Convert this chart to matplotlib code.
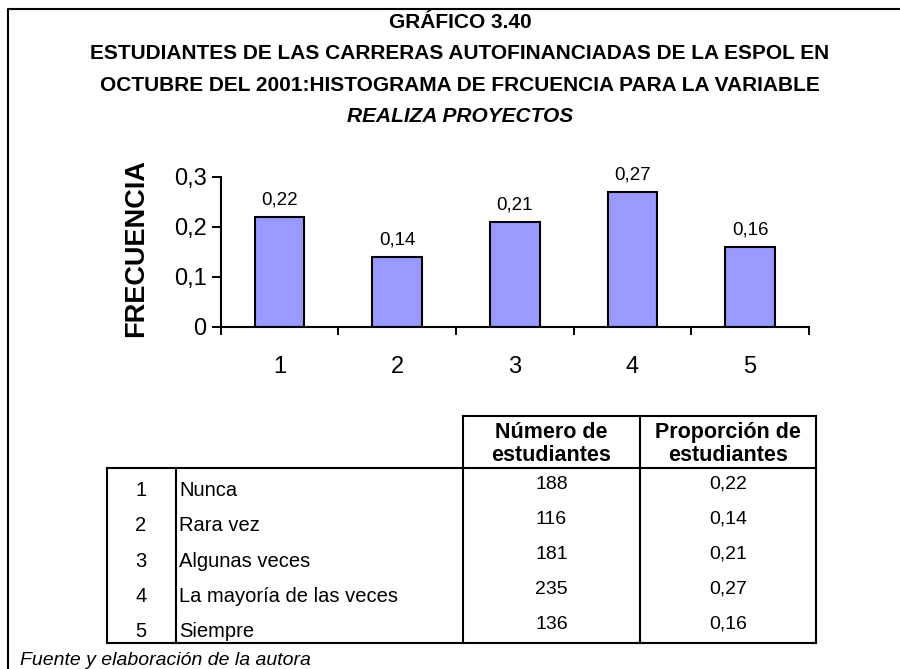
import matplotlib
matplotlib.use("Agg")
import matplotlib.pyplot as plt
from matplotlib.lines import Line2D

plt.rcParams['font.family'] = ['Liberation Sans', 'DejaVu Sans']

# ---- data ----
categories = ["1", "2", "3", "4", "5"]
frequencies = [0.22, 0.14, 0.21, 0.27, 0.16]
freq_labels = ["0,22", "0,14", "0,21", "0,27", "0,16"]
y_ticks = [0, 0.1, 0.2, 0.3]
y_tick_labels = ["0", "0,1", "0,2", "0,3"]
answer_names = ["Nunca", "Rara vez", "Algunas veces", "La mayoría de las veces", "Siempre"]
student_counts = [188, 116, 181, 235, 136]
proportion_labels = ["0,22", "0,14", "0,21", "0,27", "0,16"]

title_lines = [
    "GRÁFICO 3.40",
    "ESTUDIANTES DE LAS CARRERAS AUTOFINANCIADAS DE LA ESPOL EN",
    "OCTUBRE DEL 2001:HISTOGRAMA DE FRCUENCIA PARA LA VARIABLE",
]
title_italic = "REALIZA PROYECTOS"
footnote = "Fuente y elaboración de la autora"

W, H = 900, 669
fig = plt.figure(figsize=(W / 100, H / 100), dpi=100)


def fx(px):
    return px / W


def fy(py):
    return 1 - py / H


def put(px, py, s, size, ha="center", **kw):
    """Place text so that the middle of its capitals sits at pixel row py."""
    base = py + 0.358 * size * 100 / 72
    fig.text(fx(px), fy(base), s, ha=ha, va="baseline", fontsize=size, **kw)


# outer frame (left and top edges)
fig.add_artist(Line2D([fx(7.5), fx(7.5), fx(900)], [fy(669), fy(9), fy(9)],
                      color="black", lw=1.5, transform=fig.transFigure))

# title
title_y = [21, 52, 84]
for txt, ty in zip(title_lines, title_y):
    put(460, ty, txt, 15, fontweight="bold")
put(460, 115, title_italic, 15, fontweight="bold", fontstyle="italic")

# bar chart
ax_left, ax_right = 220.7, 809
ax_top, ax_bottom = 176.7, 326.7
ax = fig.add_axes([fx(ax_left), fy(ax_bottom), fx(ax_right) - fx(ax_left),
                   (ax_bottom - ax_top) / H])
x = list(range(len(categories)))
ax.bar(x, frequencies, width=0.42, color="#9999FF",
       edgecolor="black", linewidth=1.5)
lab_size = 13.5
lab_off = (19 - 0.358 * lab_size * 100 / 72) * 0.72
for xi, v, lab in zip(x, frequencies, freq_labels):
    ax.annotate(lab, (xi, v), xytext=(0, lab_off), textcoords="offset points",
                ha="center", va="baseline", fontsize=lab_size)

ax.set_xlim(-0.5, len(categories) - 0.5)
ax.set_ylim(0, 0.3)
ax.set_yticks(y_ticks)
ax.set_yticklabels(y_tick_labels, fontsize=17)
ax.set_xticks([i - 0.5 for i in range(len(categories) + 1)])
ax.set_xticklabels([])
ax.set_xticks(x, minor=True)
ax.set_xticklabels(categories, minor=True, fontsize=17)
ax.tick_params(axis="x", which="major", direction="out", length=5.5, width=1.4)
ax.tick_params(axis="x", which="minor", length=0, pad=21)
ax.tick_params(axis="y", direction="out", length=6.3, width=1.4, pad=4)
for side in ("top", "right"):
    ax.spines[side].set_visible(False)
for side in ("left", "bottom"):
    ax.spines[side].set_linewidth(1.5)
ax.patch.set_alpha(0)

fig.text(fx(136), fy(248), "FRECUENCIA", rotation=90, ha="center", va="center",
         fontsize=19.5, fontweight="bold")

# table
lw = 1.5


def hline(x0, x1, y):
    fig.add_artist(Line2D([fx(x0), fx(x1)], [fy(y), fy(y)], color="black",
                          lw=lw, transform=fig.transFigure))


def vline(xp, y0, y1):
    fig.add_artist(Line2D([fx(xp), fx(xp)], [fy(y0), fy(y1)], color="black",
                          lw=lw, transform=fig.transFigure))


t_left, t_num, t_cnt, t_prop, t_right = 107, 175.5, 463, 640, 816
h_top, b_top, b_bottom = 415.7, 468.3, 643
hline(t_cnt, t_right, h_top)
hline(t_left, t_right, b_top)
hline(t_left, t_right, b_bottom)
vline(t_left, b_top, b_bottom)
vline(t_num, b_top, b_bottom)
vline(t_cnt, h_top, b_bottom)
vline(t_prop, h_top, b_bottom)
vline(t_right, h_top, b_bottom)

cnt_c = (t_cnt + t_prop) / 2
prop_c = (t_prop + t_right) / 2
for cx, l1, l2 in [(cnt_c, "Número de", "estudiantes"),
                   (prop_c, "Proporción de", "estudiantes")]:
    put(cx, 430, l1, 15.5, fontweight="bold")
    put(cx, 453, l2, 15.5, fontweight="bold")

for i, (cat, name, cnt, prop) in enumerate(zip(categories, answer_names,
                                               student_counts, proportion_labels)):
    ly = 489 + 35.2 * i
    ny = 482 + 35 * i
    put(141, ly, cat, 14.5)
    put(179, ly, name, 14.5, ha="left")
    put(cnt_c, ny, str(cnt), 14)
    put(prop_c, ny, prop, 14)

put(20, 658, footnote, 14, ha="left", fontstyle="italic")

fig.savefig("out.png", dpi=100)
